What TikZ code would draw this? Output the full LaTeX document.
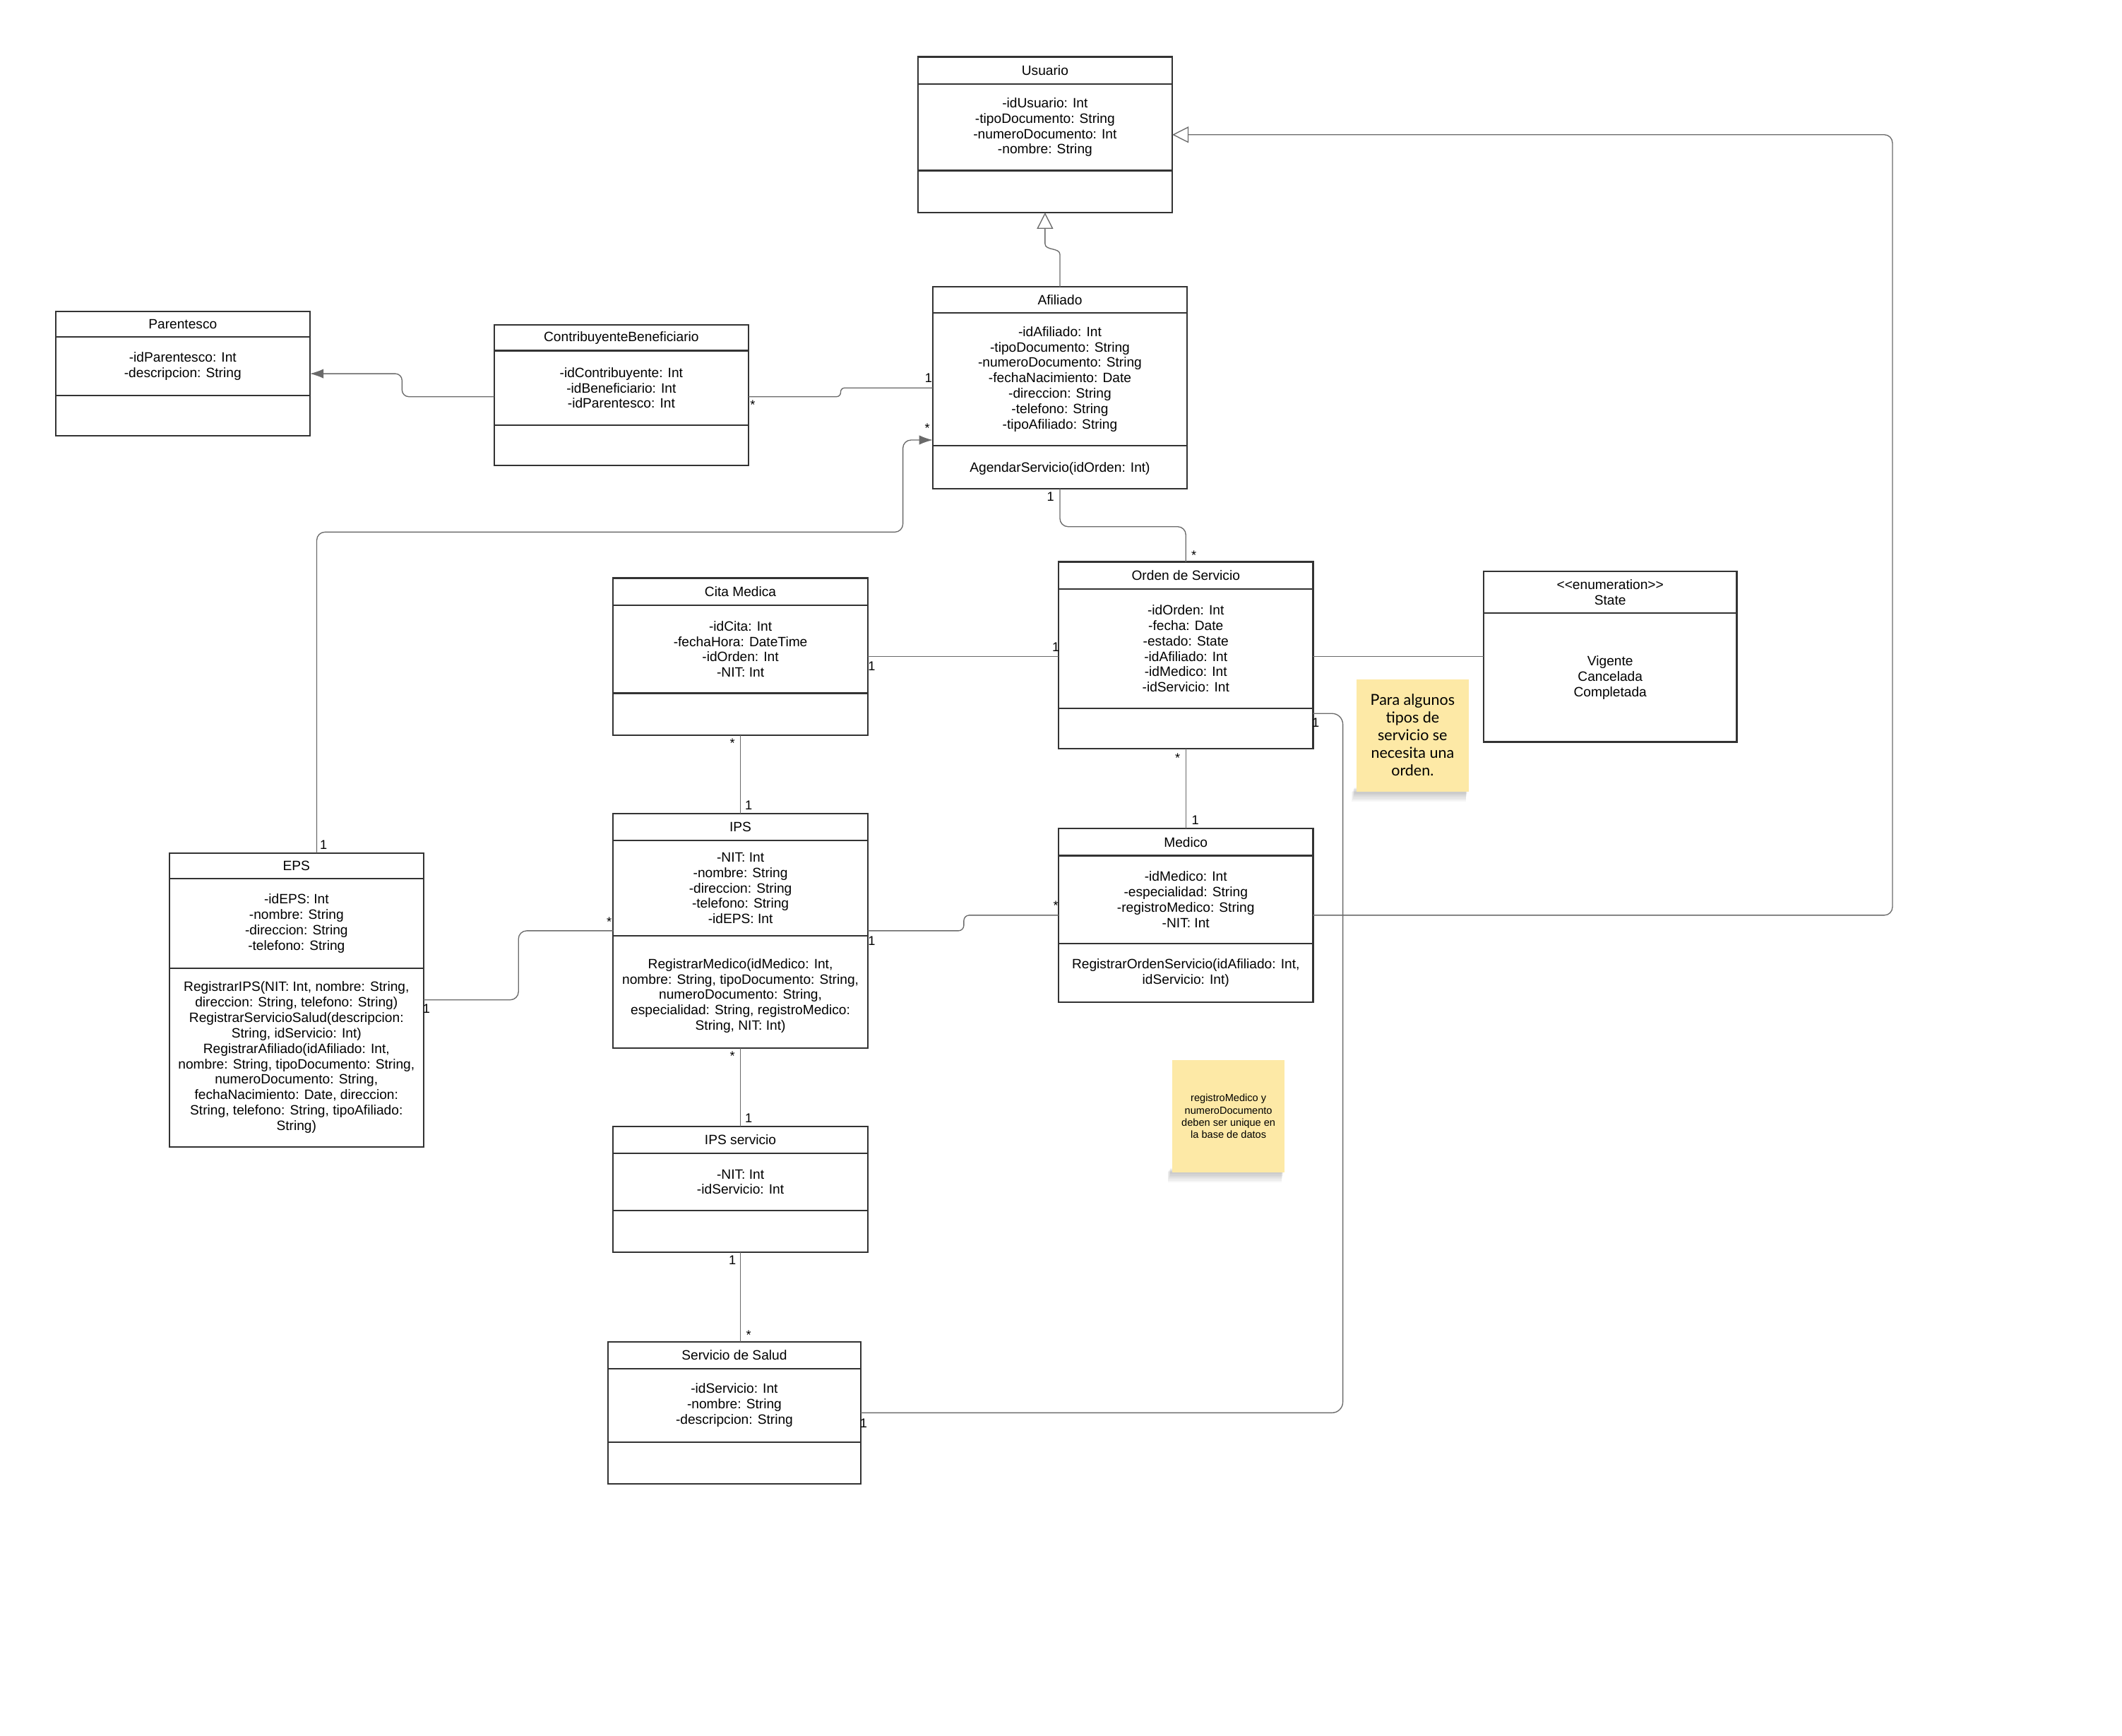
\documentclass[tikz,border=0pt]{standalone}
\usepackage{fontspec}
\setmainfont{Liberation Sans}
\newfontfamily\notefont{Lato}
\usetikzlibrary{arrows.meta,calc}
\definecolor{boxc}{HTML}{333333}
\definecolor{linec}{HTML}{6A6A6A}
\definecolor{notey}{HTML}{FDE9A6}
\tikzset{
 box/.style={draw=boxc, line width=1.1pt, fill=white, anchor=north west, inner sep=0pt, outer sep=0pt},
 sepline/.style={draw=boxc, line width=1.1pt},
 txt/.style={font=\fontsize{10}{11.4}\selectfont, align=center, inner sep=0pt, text=black},
 conn/.style={draw=linec, line width=0.7pt},
 mult/.style={font=\fontsize{9.5}{10}\selectfont, inner sep=0pt, text=black},
 gen/.style={-{Triangle[open, length=12pt, width=12pt, fill=white]}},
 nav/.style={-{Latex[length=10pt, width=7pt]}},
 note/.style={fill=notey, draw=none, anchor=north west, inner sep=0pt, outer sep=0pt},
}
\newcommand{\umlbox}[9]{%
 \node[box, minimum width={#4-#2}, minimum height={#5-#3}] (#1) at (#2,#3) {};
 \draw[sepline] (#2,#6) -- (#4,#6);
 \draw[sepline] (#2,#7) -- (#4,#7);
 \node[txt] (#1-t) at ({(#2+#4)/2},{(#3+#6)/2}) {#8};
 \node[txt] (#1-a) at ({(#2+#4)/2},{(#6+#7)/2}) {#9};
}
\newcommand{\notesh}[4]{%
 \foreach \k in {1,...,6}{
  \fill[black, opacity=0.035] ({#1-1-0.4*\k},{#4-4+0.6*\k}) rectangle ({#3-1-0.2*\k},{#4+1.2*\k});
 }
}
\begin{document}
\begin{tikzpicture}[x=1pt,y=-1pt]
\useasboundingbox (0,0) rectangle (1567.6,1282.2);
\fill[white] (0,0) rectangle (1567.6,1282.2);

% ---------- classes ----------
\umlbox{usu}{678}{42}{866}{157}{62}{126}{Usuario}{-idUsuario: Int\\-tipoDocumento: String\\-numeroDocumento: Int\\-nombre: String}

\umlbox{afil}{689}{212}{877}{361}{231}{329}{Afiliado}{-idAfiliado: Int\\-tipoDocumento: String\\-numeroDocumento: String\\-fechaNacimiento: Date\\-direccion: String\\-telefono: String\\-tipoAfiliado: String}
\node[txt] (afil-m) at (783,346) {AgendarServicio(idOrden: Int)};

\umlbox{par}{41}{230}{229}{322}{249}{292}{Parentesco}{-idParentesco: Int\\-descripcion: String}

\umlbox{cb}{365}{240}{553}{344}{259}{314}{ContribuyenteBeneficiario}{-idContribuyente: Int\\-idBeneficiario: Int\\-idParentesco: Int}

\umlbox{cita}{453}{427}{641}{543}{447}{512}{Cita Medica}{-idCita: Int\\-fechaHora: DateTime\\-idOrden: Int\\-NIT: Int}

\umlbox{orden}{782}{415}{970}{553}{435}{523}{Orden de Servicio}{-idOrden: Int\\-fecha: Date\\-estado: State\\-idAfiliado: Int\\-idMedico: Int\\-idServicio: Int}

\node[box, minimum width=187, minimum height=126] (state) at (1096,422) {};
\draw[sepline] (1096,453) -- (1283,453);
\node[txt] (state-t) at (1189.5,437.5) {<{}<enumeration>{}>\\State};
\node[txt] (state-a) at (1189.5,500.5) {Vigente\\Cancelada\\Completada};

\umlbox{eps}{125}{630}{313}{847}{649}{715}{EPS}{-idEPS: Int\\-nombre: String\\-direccion: String\\-telefono: String}
\node[txt] (eps-m) at (219,781) {RegistrarIPS(NIT: Int, nombre: String,\\direccion: String, telefono: String)\\RegistrarServicioSalud(descripcion:\\String, idServicio: Int)\\RegistrarAfiliado(idAfiliado: Int,\\nombre: String, tipoDocumento: String,\\numeroDocumento: String,\\fechaNacimiento: Date, direccion:\\String, telefono: String, tipoAfiliado:\\String)};

\umlbox{ips}{453}{601}{641}{774}{621}{691}{IPS}{-NIT: Int\\-nombre: String\\-direccion: String\\-telefono: String\\-idEPS: Int}
\node[txt] (ips-m) at (547,735.5) {RegistrarMedico(idMedico: Int,\\nombre: String, tipoDocumento: String,\\numeroDocumento: String,\\especialidad: String, registroMedico:\\String, NIT: Int)};

\umlbox{med}{782}{612}{970}{740}{632}{697}{Medico}{-idMedico: Int\\-especialidad: String\\-registroMedico: String\\-NIT: Int}
\node[txt] (med-m) at (876,718.5) {RegistrarOrdenServicio(idAfiliado: Int,\\idServicio: Int)};

\umlbox{isvc}{453}{832}{641}{925}{852}{894}{IPS servicio}{-NIT: Int\\-idServicio: Int}

\umlbox{salud}{449}{991}{636}{1096}{1011}{1065}{Servicio de Salud}{-idServicio: Int\\-nombre: String\\-descripcion: String}

% ---------- notes ----------
\notesh{1002}{502}{1085}{585}
\node[note, minimum width=83, minimum height=83] (n1) at (1002,502) {};
\node[align=center, inner sep=0pt, font=\notefont\fontsize{11.2}{13}\selectfont] (n1-t) at (1043.5,543) {Para algunos\\tipos de\\servicio se\\necesita una\\orden.};

\notesh{866}{783}{949}{866}
\node[note, minimum width=83, minimum height=83] (n2) at (866,783) {};
\node[align=center, inner sep=0pt, font=\fontsize{7.6}{9}\selectfont] (n2-t) at (907.5,824.5) {registroMedico y\\numeroDocumento\\deben ser unique en\\la base de datos};

% ---------- helper coordinates ----------
\coordinate (rc) at (1398,0);
\coordinate (pc) at (297,0);
\coordinate (ac) at (621,0);
\coordinate (e1) at (667,393);
\coordinate (o1) at (0,389);
\coordinate (im) at (712,676);
\coordinate (ei) at (383,0);
\coordinate (os) at (992,0);
\coordinate (g1) at (0,188);
\coordinate (g2) at (0,180);
\coordinate (ordR) at ([yshift=-43pt]orden.east);

% ---------- connectors ----------
% generalization Afiliado -> Usuario
\draw[conn, gen] (afil.north) -- (afil.north |- g1) to[out=90,in=-90] (usu.south |- g2) -- (usu.south);
% generalization Medico -> Usuario
\draw[conn, gen, rounded corners=6pt] (med.east) -- (med.east -| rc) -- (rc |- usu.east) -- (usu.east);
% ContribuyenteBeneficiario -> Parentesco
\draw[conn, nav, rounded corners=5pt] ([yshift=-1pt]cb.west) -- ([yshift=-1pt]cb.west -| pc) -- (pc |- par.east) -- (par.east);
% ContribuyenteBeneficiario -- Afiliado
\draw[conn, rounded corners=3pt] ([yshift=-1pt]cb.east) -- ([yshift=-1pt]cb.east -| ac) -- (ac |- afil.west) -- (afil.west);
% EPS -> Afiliado
\draw[conn, nav, rounded corners=6pt] ([xshift=15pt]eps.north) |- (e1) |- ([yshift=-38.5pt]afil.west);
% Afiliado -- Orden
\draw[conn, rounded corners=6pt] (afil.south) -- (afil.south |- o1) -- (orden.north |- o1) -- (orden.north);
% Cita -- Orden, Orden -- State
\draw[conn] (cita.east) -- (cita.east -| orden.west);
\draw[conn] ([yshift=-1pt]orden.east) -- ([yshift=-1pt]orden.east -| state.west);
% Cita -- IPS, Orden -- Medico
\draw[conn] (cita.south) -- (ips.north);
\draw[conn] (orden.south) -- (med.north);
% IPS -- Medico
\draw[conn, rounded corners=4pt] (ips.east) -| (im) -- (med.west);
% EPS -- IPS
\draw[conn, rounded corners=6pt] (eps.east) -- (eps.east -| ei) -- (ei |- ips.west) -- (ips.west);
% IPS -- IPS servicio -- Servicio de Salud
\draw[conn] (ips.south) -- (isvc.north);
\draw[conn] (isvc.south) -- (isvc.south |- salud.north);
% Orden -- Servicio de Salud
\draw[conn, rounded corners=8pt] (ordR) -- (ordR -| os) -- (os |- salud.east) -- (salud.east);

% ---------- multiplicities ----------
\node[mult] (m1) at (686,279) {1};
\node[mult] (m2) at (556,299) {*};
\node[mult] (m3) at (685,316) {*};
\node[mult] (m4) at (776,367) {1};
\node[mult] (m5) at (882,410) {*};
\node[mult] (m6) at (644,492) {1};
\node[mult] (m7) at (780,478) {1};
\node[mult] (m8) at (972,534) {1};
\node[mult] (m9) at (541,549) {*};
\node[mult] (m10) at (553,595) {1};
\node[mult] (m11) at (870,560) {*};
\node[mult] (m12) at (883,606) {1};
\node[mult] (m13) at (239,624) {1};
\node[mult] (m14) at (450,681) {*};
\node[mult] (m15) at (644,695) {1};
\node[mult] (m16) at (780,669) {*};
\node[mult] (m17) at (315,745) {1};
\node[mult] (m18) at (541,780) {*};
\node[mult] (m19) at (553,826) {1};
\node[mult] (m20) at (541,931) {1};
\node[mult] (m21) at (553,986) {*};
\node[mult] (m22) at (638,1051) {1};
\end{tikzpicture}
\end{document}
